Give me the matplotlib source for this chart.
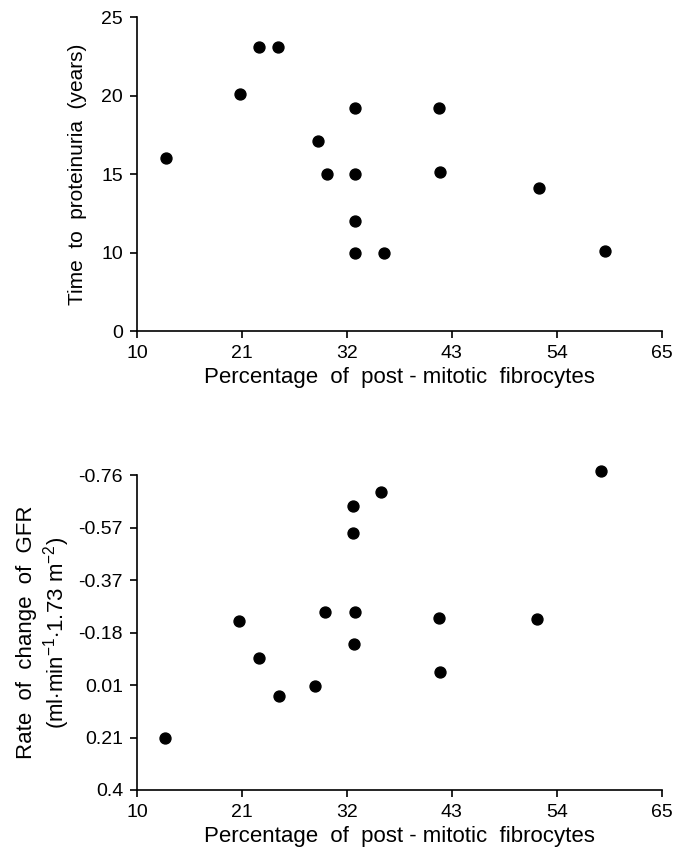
import numpy as np
import matplotlib
matplotlib.use("Agg")
import matplotlib.pyplot as plt

plt.rcParams['font.family'] = ['Liberation Sans', 'DejaVu Sans']
plt.rcParams['mathtext.fontset'] = 'custom'
plt.rcParams['mathtext.rm'] = 'Liberation Sans'
plt.rcParams['mathtext.it'] = 'Liberation Sans'

# top panel: time to proteinuria
top_x = [13.0, 20.8, 22.8, 24.8, 32.9, 41.7, 29.0, 29.9, 32.9, 41.8, 52.1, 32.9, 32.9, 35.9, 59.1]
top_y = [16.0, 20.1, 23.1, 23.1, 19.2, 19.2, 17.1, 15.0, 15.0, 15.1, 14.1, 12.0, 10.0, 10.0, 10.1]

# bottom panel: rate of change of GFR (axis inverted)
bot_x = [12.9, 20.7, 22.8, 24.9, 28.7, 29.7, 32.8, 32.6, 32.65, 35.6, 32.75, 41.7, 41.8, 51.9, 58.6]
bot_y = [0.21, -0.224, -0.088, 0.053, 0.018, -0.254, -0.256, -0.646, -0.548, -0.697, -0.137,
         -0.233, -0.036, -0.231, -0.776]

x_ticks = [10, 21, 32, 43, 54, 65]
top_ticks = [5, 10, 15, 20, 25]
top_labels = ['0', '10', '15', '20', '25']
bot_ticks = list(np.linspace(-0.76, 0.4, 7))
bot_labels = ['-0.76', '-0.57', '-0.37', '-0.18', '0.01', '0.21', '0.4']

fig = plt.figure(figsize=(6.86, 8.51), dpi=100)
ax1 = fig.add_axes([0.1997, 0.611, 0.765, 0.369])
ax2 = fig.add_axes([0.1997, 0.0717, 0.765, 0.370])

for ax in (ax1, ax2):
    ax.spines['top'].set_visible(False)
    ax.spines['right'].set_visible(False)
    ax.spines['left'].set_linewidth(1.2)
    ax.spines['bottom'].set_linewidth(1.2)
    ax.tick_params(direction='out', length=5, width=1.2, labelsize=14, pad=5)
    ax.set_xlim(10, 65)
    ax.set_xticks(x_ticks)
    ax.set_xlabel("Percentage  of  post - mitotic  fibrocytes", fontsize=16, labelpad=4)

ax1.scatter(top_x, top_y, s=62, color='black', zorder=3, clip_on=False)
ax1.set_ylim(5, 25)
ax1.set_yticks(top_ticks)
ax1.set_yticklabels(top_labels)
ax1.set_ylabel("Time  to  proteinuria  (years)", fontsize=15, labelpad=10)

ax2.scatter(bot_x, bot_y, s=62, color='black', zorder=3, clip_on=False)
ax2.set_ylim(0.4, -0.76)
ax2.set_yticks(bot_ticks)
ax2.set_yticklabels(bot_labels)
ax2.set_ylabel("Rate  of  change  of  GFR\n(ml$\\cdot$min$^{\\mathrm{-1}}$$\\cdot$1.73 m$^{\\mathrm{-2}}$)",
               fontsize=16, labelpad=5, linespacing=1.15)

fig.savefig("out.png", dpi=100)
